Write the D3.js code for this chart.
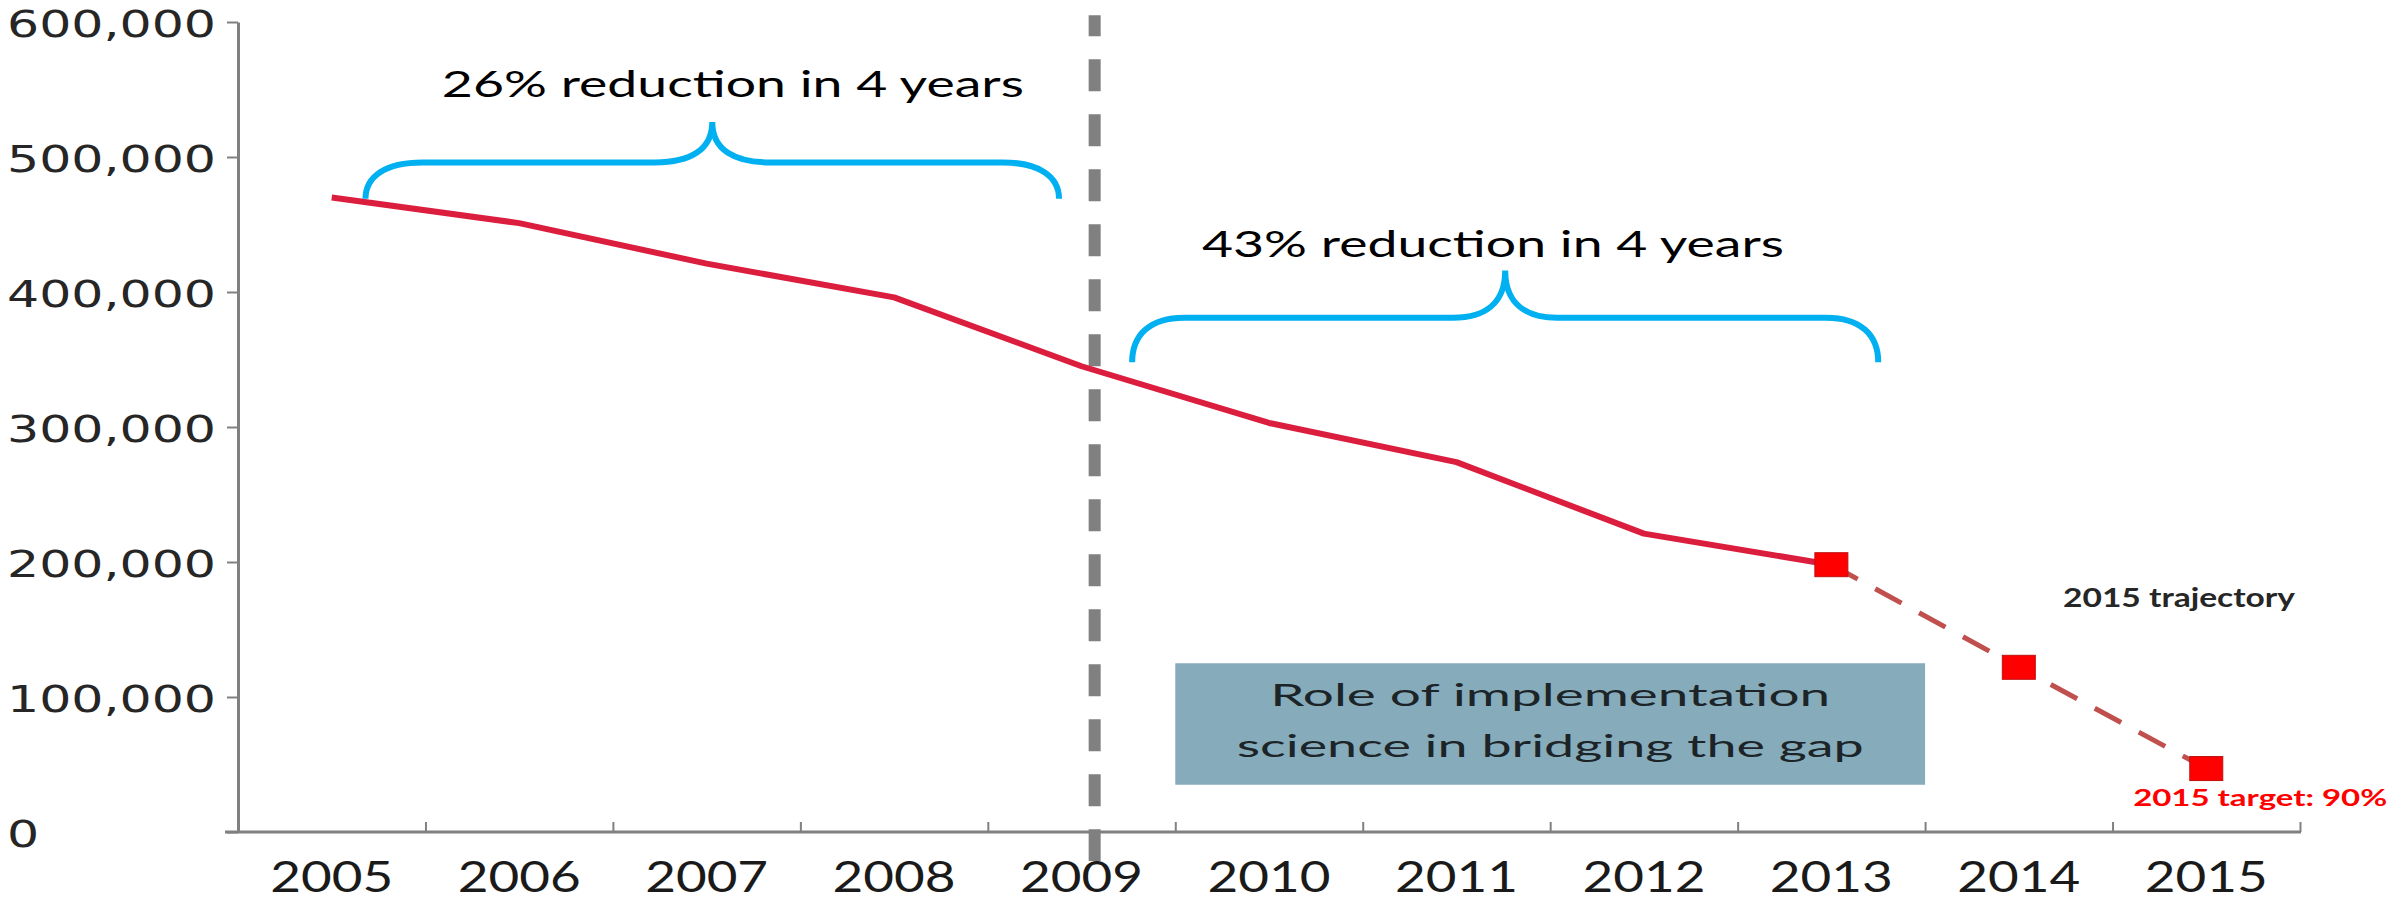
<!DOCTYPE html>
<html>
<head>
<meta charset="utf-8">
<script src="https://cdn.jsdelivr.net/npm/d3@7"></script>
<style>
  html, body { margin: 0; padding: 0; background: #ffffff; }
  svg { display: block; }
</style>
</head>
<body>
<svg id="chart" width="2392" height="900"></svg>
<script>
// ---------------- DATA ----------------
const years = ["2005","2006","2007","2008","2009","2010","2011","2012","2013","2014","2015"];
const actualYears = ["2005","2006","2007","2008","2009","2010","2011","2012","2013"];
const actualValues = [470000, 451000, 421000, 396000, 345000, 303000, 274000, 221000, 198000];
const trajectoryYears = ["2013","2014","2015"];
const trajectoryValues = [198000, 122000, 47000];
const yTicks = [0, 100000, 200000, 300000, 400000, 500000, 600000];

const braceLabels = ["26% reduction in 4 years", "43% reduction in 4 years"];
const boxLines = ["Role of implementation", "science in bridging the gap"];
const trajectoryLabel = "2015 trajectory";
const targetLabel = "2015 target: 90%";

// ---------------- SCALES ----------------
const svg = d3.select("#chart");
const plotLeft = 238, plotRight = 2300, plotTop = 22, plotBottom = 832;

const x = d3.scaleBand().domain(years).range([plotLeft, plotRight]).padding(0);
const xl = d3.scaleLinear().domain([2004.5, 2015.5]).range([plotLeft, plotRight]); // continuous year position
const y = d3.scaleLinear().domain([0, 600000]).range([plotBottom, plotTop]);
const cx = d => x(d) + x.bandwidth() / 2;

function stretch(sel, factor) {
  sel.each(function () {
    const len = this.getComputedTextLength();
    d3.select(this).attr("textLength", len * factor).attr("lengthAdjust", "spacingAndGlyphs");
  });
}
function fitWidth(sel, w) {
  sel.attr("textLength", w).attr("lengthAdjust", "spacingAndGlyphs");
}

// ---------------- Y AXIS ----------------
const gy = svg.append("g").attr("transform", `translate(${plotLeft},0)`)
  .call(d3.axisLeft(y).tickValues(yTicks).tickSize(11).tickSizeOuter(0).tickFormat(d3.format(",")));
gy.select(".domain").attr("stroke", "#808080").attr("stroke-width", 3);
gy.selectAll(".tick line").attr("stroke", "#808080").attr("stroke-width", 2);
gy.selectAll(".tick text")
  .attr("x", 7 - plotLeft).attr("dy", null).attr("y", 14)
  .attr("text-anchor", "start")
  .attr("font-family", "DejaVu Sans")
  .attr("font-size", 38)
  .attr("fill", "#262626");
stretch(gy.selectAll(".tick text"), 1.33);

// ---------------- X AXIS ----------------
const boundaries = d3.range(2004.5, 2015.6, 1);
const gxt = svg.append("g").attr("transform", `translate(0,${plotBottom})`)
  .call(d3.axisBottom(xl).tickValues(boundaries).tickSize(-10).tickSizeOuter(0).tickFormat(""));
gxt.select(".domain").remove();
gxt.selectAll(".tick line").attr("stroke", "#808080").attr("stroke-width", 2);
svg.append("line")
  .attr("x1", plotLeft - 13).attr("x2", plotRight + 1)
  .attr("y1", plotBottom).attr("y2", plotBottom)
  .attr("stroke", "#808080").attr("stroke-width", 3);

const gx = svg.append("g").attr("transform", `translate(0,${plotBottom})`)
  .call(d3.axisBottom(x).tickSize(0));
gx.select(".domain").remove();
gx.selectAll(".tick text")
  .attr("y", 60).attr("dy", null)
  .attr("font-family", "Lato")
  .attr("font-size", 42)
  .attr("fill", "#1a1a1a");
fitWidth(gx.selectAll(".tick text"), 123);

// ---------------- BOX ----------------
svg.append("rect")
  .attr("x", xl(2009.5)).attr("y", y(125000))
  .attr("width", xl(2013.5) - xl(2009.5))
  .attr("height", y(35000) - y(125000))
  .attr("fill", "#86acbc");
const boxBase = [93300, 55600];
const boxW = [560, 627];
boxLines.forEach((t, i) => {
  svg.append("text")
    .attr("x", xl(2011.5)).attr("y", y(boxBase[i]))
    .attr("text-anchor", "middle")
    .attr("font-family", "Lato").attr("font-size", 31)
    .attr("fill", "#1c2428")
    .attr("textLength", boxW[i]).attr("lengthAdjust", "spacingAndGlyphs")
    .text(t);
});

// ---------------- VERTICAL DASHED DIVIDER ----------------
svg.append("line")
  .attr("x1", xl(2009.07)).attr("x2", xl(2009.07))
  .attr("y1", y(605000)).attr("y2", y(-21500))
  .attr("stroke", "#808080").attr("stroke-width", 12)
  .attr("stroke-dasharray", "32,23").attr("stroke-dashoffset", 11);

// ---------------- LINES ----------------
const line = d3.line().x(d => cx(d[0])).y(d => y(d[1]));
svg.append("path")
  .datum(trajectoryYears.map((yr, i) => [yr, trajectoryValues[i]]))
  .attr("d", line)
  .attr("fill", "none").attr("stroke", "#c0504d").attr("stroke-width", 5)
  .attr("stroke-dasharray", "30,20");
svg.append("path")
  .datum(actualYears.map((yr, i) => [yr, actualValues[i]]))
  .attr("d", line)
  .attr("fill", "none").attr("stroke", "#dc1e3e").attr("stroke-width", 6)
  .attr("stroke-linejoin", "round");

// squares
const sqW = 33, sqH = 24;
svg.selectAll("rect.marker")
  .data(trajectoryYears.map((yr, i) => [yr, trajectoryValues[i]]))
  .join("rect").attr("class", "marker")
  .attr("x", d => cx(d[0]) - sqW / 2).attr("y", d => y(d[1]) - sqH / 2)
  .attr("width", sqW).attr("height", sqH)
  .attr("fill", "#ff0000").attr("stroke", "#c01010").attr("stroke-width", 1);

// ---------------- BRACES ----------------
function brace(x0, x1, xm, yEnd, yMid, yPeak, corner) {
  const a = xl(x0), b = xl(x1), m = xl(xm);
  const ye = y(yEnd), yh = y(yMid), yp = y(yPeak);
  const c = corner;
  return `M${a},${ye} C${a},${ye - (ye - yh) * 0.62} ${a + c * 0.35},${yh} ${a + c},${yh}` +
         ` L${m - c},${yh} C${m - c * 0.4},${yh} ${m},${yh - (yh - yp) * 0.3} ${m},${yp}` +
         ` C${m},${yh - (yh - yp) * 0.3} ${m + c * 0.4},${yh} ${m + c},${yh}` +
         ` L${b - c},${yh} C${b - c * 0.35},${yh} ${b},${ye - (ye - yh) * 0.62} ${b},${ye}`;
}
svg.append("path")
  .attr("d", brace(2005.18, 2008.88, 2007.03, 469000, 496000, 526000, 57))
  .attr("fill", "none").attr("stroke", "#00b0f0").attr("stroke-width", 6);
svg.append("path")
  .attr("d", brace(2009.27, 2013.25, 2011.26, 348000, 381000, 416000, 52))
  .attr("fill", "none").attr("stroke", "#00b0f0").attr("stroke-width", 6);

const braceTextPos = [[2007.14, 544400], [2011.195, 425900]];
braceLabels.forEach((t, i) => {
  svg.append("text")
    .attr("x", xl(braceTextPos[i][0])).attr("y", y(braceTextPos[i][1]))
    .attr("text-anchor", "middle")
    .attr("font-family", "Lato").attr("font-size", 37)
    .attr("fill", "#000")
    .attr("textLength", 582).attr("lengthAdjust", "spacingAndGlyphs")
    .text(t);
});

// ---------------- TRAJECTORY LABELS ----------------
svg.append("text")
  .attr("x", xl(2014.236)).attr("y", y(166700))
  .attr("font-family", "Lato").attr("font-weight", "bold").attr("font-size", 26)
  .attr("fill", "#262626")
  .attr("textLength", 232).attr("lengthAdjust", "spacingAndGlyphs")
  .text(trajectoryLabel);
svg.append("text")
  .attr("x", xl(2014.61)).attr("y", y(19300))
  .attr("font-family", "Lato").attr("font-weight", "bold").attr("font-size", 23)
  .attr("fill", "#ff0000")
  .attr("textLength", 254).attr("lengthAdjust", "spacingAndGlyphs")
  .text(targetLabel);
</script>
</body>
</html>
